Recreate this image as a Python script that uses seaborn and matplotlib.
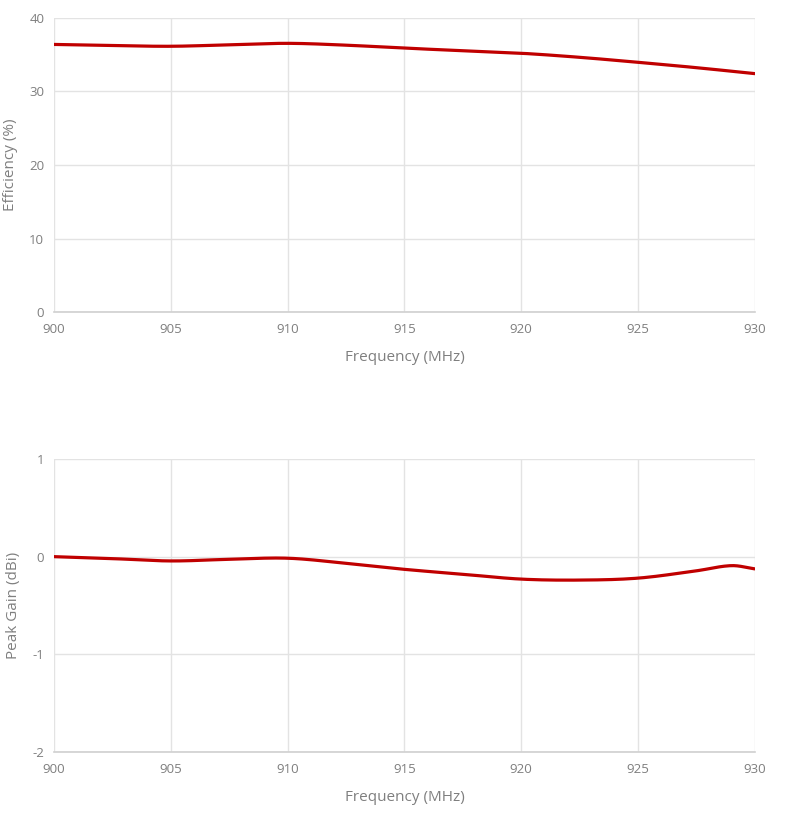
import numpy as np
import pandas as pd
import matplotlib
matplotlib.use("Agg")
import matplotlib.pyplot as plt
import seaborn as sns

# ---- data ----
freq_eff = [900, 902.5, 905, 907.5, 910, 912.5, 915, 917.5, 920, 922.5, 925, 927.5, 930]
efficiency = [36.4, 36.25, 36.15, 36.35, 36.55, 36.3, 35.9, 35.55, 35.2, 34.65, 33.97, 33.24, 32.43]

freq_gain = [900, 902.5, 905, 907.5, 910, 912.5, 915, 917.5, 920, 922.5, 925, 927.5, 929, 930]
peak_gain = [0.0, -0.02, -0.044, -0.027, -0.016, -0.068, -0.13, -0.18, -0.23, -0.24, -0.22, -0.145, -0.092, -0.125]

x_ticks = [900, 905, 910, 915, 920, 925, 930]
eff_ticks = [0, 10, 20, 30, 40]
gain_ticks = [-2, -1, 0, 1]

LINE = "#C00000"
TXT = "#7f7f7f"
GRID = "#e3e3e3"


def smooth(x, y, n=20):
    """Cubic Hermite rendering of the line (like a spreadsheet's smoothed line)."""
    x = np.asarray(x, float)
    y = np.asarray(y, float)
    m = np.zeros_like(y)
    m[1:-1] = (y[2:] - y[:-2]) / (x[2:] - x[:-2])
    m[0] = (y[1] - y[0]) / (x[1] - x[0])
    m[-1] = (y[-1] - y[-2]) / (x[-1] - x[-2])
    xs, ys = [], []
    for i in range(len(x) - 1):
        h = x[i + 1] - x[i]
        t = np.linspace(0, 1, n, endpoint=False)
        h00 = 2 * t**3 - 3 * t**2 + 1
        h10 = t**3 - 2 * t**2 + t
        h01 = -2 * t**3 + 3 * t**2
        h11 = t**3 - t**2
        xs.append(x[i] + t * h)
        ys.append(h00 * y[i] + h10 * h * m[i] + h01 * y[i + 1] + h11 * h * m[i + 1])
    xs.append([x[-1]])
    ys.append([y[-1]])
    return pd.DataFrame({"x": np.concatenate(xs), "y": np.concatenate(ys)})


sns.set_theme(style="white")
plt.rcParams["font.family"] = ["Open Sans", "DejaVu Sans"]
plt.rcParams["axes.unicode_minus"] = False

fig = plt.figure(figsize=(8.0, 8.17), dpi=100)
ax1 = fig.add_axes([0.0675, 0.6181, 0.876, 0.3599])
ax2 = fig.add_axes([0.0675, 0.0796, 0.876, 0.3586])


def style(ax, yticks, ylabel):
    ax.set_xlim(900, 930)
    ax.set_ylim(yticks[0], yticks[-1])
    ax.set_xticks(x_ticks)
    ax.set_yticks(yticks)
    ax.grid(True, color=GRID, linewidth=1.0)
    ax.set_axisbelow(True)
    for s in ["top", "right", "left"]:
        ax.spines[s].set_visible(False)
    ax.spines["bottom"].set_color("#d0d0d0")
    ax.spines["bottom"].set_linewidth(1.2)
    ax.tick_params(axis="both", length=0, labelsize=9.5, colors=TXT)
    ax.tick_params(axis="x", pad=8)
    ax.tick_params(axis="y", pad=7)
    ax.set_xlabel("Frequency (MHz)", fontsize=11, color=TXT, labelpad=10)
    ax.set_ylabel(ylabel, fontsize=11, color=TXT, labelpad=8)


sns.lineplot(data=smooth(freq_eff, efficiency), x="x", y="y", ax=ax1,
             color=LINE, linewidth=2.3, estimator=None, sort=False)
style(ax1, eff_ticks, "Efficiency (%)")

sns.lineplot(data=smooth(freq_gain, peak_gain), x="x", y="y", ax=ax2,
             color=LINE, linewidth=2.3, estimator=None, sort=False)
style(ax2, gain_ticks, "Peak Gain (dBi)")

fig.savefig("out.png", dpi=100, facecolor="white")
